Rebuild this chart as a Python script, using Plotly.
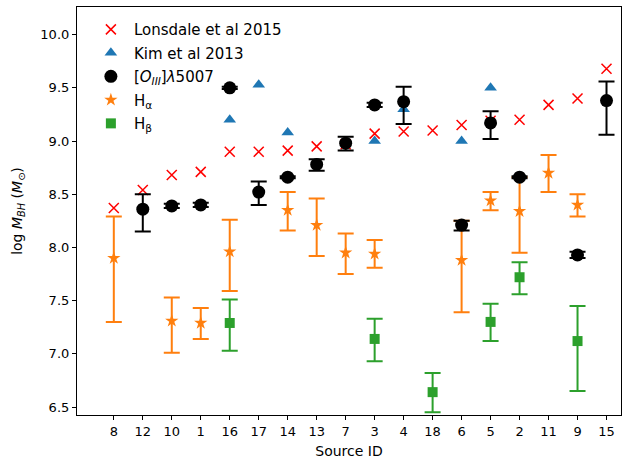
import plotly.graph_objects as go

source_ids = ["8", "12", "10", "1", "16", "17", "14", "13", "7", "3", "4", "18", "6", "5", "2", "11", "9", "15"]

lonsdale = [8.37, 8.54, 8.68, 8.71, 8.90, 8.90, 8.91, 8.95, 8.97, 9.07, 9.09, 9.10, 9.15, 9.19, 9.20, 9.34, 9.40, 9.68]
kim = [None, None, None, None, 9.20, 9.53, 9.08, None, None, 9.00, 9.30, None, 9.00, 9.50, None, None, None, None]

oiii = [None, 8.36, 8.39, 8.40, 9.50, 8.52, 8.66, 8.78, 8.98, 9.34, 9.37, None, 8.21, 9.17, 8.66, None, 7.93, 9.38]
oiii_up = [None, 0.14, 0.02, 0.02, 0.01, 0.10, 0.01, 0.05, 0.06, 0.02, 0.14, None, 0.04, 0.11, 0.01, None, 0.03, 0.18]
oiii_lo = [None, 0.21, 0.02, 0.02, 0.01, 0.12, 0.01, 0.06, 0.07, 0.02, 0.21, None, 0.05, 0.15, 0.01, None, 0.03, 0.32]

ha = [7.90, None, 7.31, 7.29, 7.96, None, 8.35, 8.21, 7.95, 7.94, None, None, 7.88, 8.44, 8.34, 8.70, 8.40, None]
ha_up = [0.39, None, 0.22, 0.14, 0.30, None, 0.17, 0.25, 0.18, 0.13, None, None, 0.37, 0.08, 0.32, 0.17, 0.10, None]
ha_lo = [0.60, None, 0.30, 0.15, 0.37, None, 0.19, 0.29, 0.20, 0.13, None, None, 0.49, 0.09, 0.39, 0.18, 0.11, None]

hb = [None, None, None, None, 7.29, None, None, None, None, 7.14, None, 6.64, None, 7.30, 7.72, None, 7.12, None]
hb_up = [None, None, None, None, 0.22, None, None, None, None, 0.19, None, 0.18, None, 0.17, 0.14, None, 0.33, None]
hb_lo = [None, None, None, None, 0.26, None, None, None, None, 0.21, None, 0.19, None, 0.18, 0.16, None, 0.47, None]

font = "DejaVu Sans"

def errs(up, lo, color):
    return dict(type="data", symmetric=False,
                array=[u if u is not None else 0 for u in up],
                arrayminus=[l if l is not None else 0 for l in lo],
                color=color, thickness=2, width=8, visible=True)

fig = go.Figure()
fig.add_trace(go.Scatter(x=source_ids, y=lonsdale, mode="markers", name="Lonsdale et al 2015",
                         legendgroup="g1",
                         marker=dict(symbol="x-thin", size=10, line=dict(color="red", width=1.5), color="red")))
fig.add_trace(go.Scatter(x=source_ids, y=kim, mode="markers", name="Kim et al 2013",
                         legendgroup="g2",
                         marker=dict(symbol="triangle-up", size=11, color="#1f77b4")))
fig.add_trace(go.Scatter(x=source_ids, y=ha, mode="markers", name="H<sub>α</sub>",
                         legendgroup="g4",
                         marker=dict(symbol="star", size=10, color="#ff7f0e"),
                         error_y=errs(ha_up, ha_lo, "#ff7f0e"), showlegend=False))
fig.add_trace(go.Scatter(x=source_ids, y=oiii, mode="markers", name="[<i>O</i><sub><i>III</i></sub>]<i>λ</i>5007",
                         legendgroup="g3",
                         marker=dict(symbol="circle", size=13, color="black"),
                         error_y=errs(oiii_up, oiii_lo, "black")))
fig.add_trace(go.Scatter(x=source_ids, y=hb, mode="markers", name="H<sub>β</sub>",
                         legendgroup="g5",
                         marker=dict(symbol="square", size=10, color="#2ca02c"),
                         error_y=errs(hb_up, hb_lo, "#2ca02c"), showlegend=False))
# legend entries in reference order
fig.add_trace(go.Scatter(x=[None], y=[None], mode="markers", name="H<sub>α</sub>",
                         legendgroup="g4",
                         marker=dict(symbol="star", size=10, color="#ff7f0e")))
fig.add_trace(go.Scatter(x=[None], y=[None], mode="markers", name="H<sub>β</sub>",
                         legendgroup="g5",
                         marker=dict(symbol="square", size=10, color="#2ca02c")))

fig.update_layout(
    width=622, height=466,
    margin=dict(l=77, r=1, t=7, b=51),
    plot_bgcolor="white", paper_bgcolor="white",
    font=dict(family=font, size=13, color="black"),
    showlegend=True,
    legend=dict(x=0.02, y=0.985, xanchor="left", yanchor="top", bgcolor="rgba(0,0,0,0)",
                font=dict(size=15), traceorder="grouped", tracegroupgap=1, itemwidth=36),
    xaxis=dict(type="category", categoryorder="array", categoryarray=source_ids,
               range=[-1.27, 17.5], showgrid=False, zeroline=False,
               showline=True, linecolor="black", linewidth=1.2, mirror=True,
               ticks="outside", ticklen=4, tickcolor="black",
               title=dict(text="Source ID", font=dict(size=14), standoff=8)),
    yaxis=dict(range=[6.425, 10.26], showgrid=False, zeroline=False,
               showline=True, linecolor="black", linewidth=1.2, mirror=True,
               ticks="outside", ticklen=4, tickcolor="black",
               tickvals=[6.5, 7.0, 7.5, 8.0, 8.5, 9.0, 9.5, 10.0],
               ticktext=["6.5", "7.0", "7.5", "8.0", "8.5", "9.0", "9.5", "10.0"],
               title=dict(text="log <i>M</i><sub><i>BH</i></sub> (<i>M</i><sub>⊙</sub>)", font=dict(size=14), standoff=14)),
)

fig.write_html("out.html")
